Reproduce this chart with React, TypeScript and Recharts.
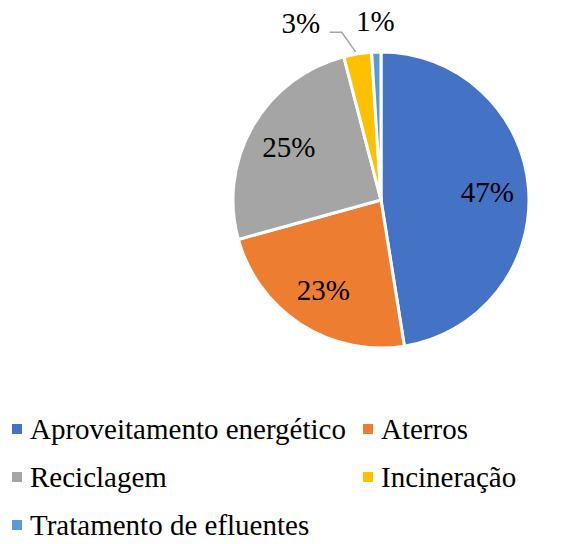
import { PieChart, Pie, Cell, Legend } from "recharts";

const categories = [
  "Aproveitamento energético",
  "Aterros",
  "Reciclagem",
  "Incineração",
  "Tratamento de efluentes",
];
const shares = [47, 23, 25, 3, 1];
const colors = ["#4472C4", "#ED7D31", "#A5A5A5", "#FFC000", "#5B9BD5"];

const data = categories.map((name, i) => ({ name, value: shares[i] }));
const total = shares.reduce((a, b) => a + b, 0);

const FONT = "Liberation Serif, Times New Roman, Tinos, DejaVu Serif, serif";
const RAD = Math.PI / 180;

function renderLabel(props: any) {
  const { cx, cy, midAngle, outerRadius, index, value } = props;
  const pct = Math.round((value / total) * 100) + "%";
  const small = value / total < 0.05;
  if (!small) {
    const r = outerRadius * 0.72;
    const x = cx + r * Math.cos(-midAngle * RAD);
    const y = cy + r * Math.sin(-midAngle * RAD);
    return (
      <text x={x} y={y} textAnchor="middle" dominantBaseline="central" style={{ fontFamily: FONT }} fontSize={29} fill="#000">
        {pct}
      </text>
    );
  }
  const r = outerRadius + 31;
  let x = cx + r * Math.cos(-midAngle * RAD);
  const y = cy + r * Math.sin(-midAngle * RAD);
  const ex = cx + outerRadius * Math.cos(-midAngle * RAD);
  const ey = cy + outerRadius * Math.sin(-midAngle * RAD);
  // the larger of the two thin slices is pushed aside, with a leader line
  const shifted = index === shares.length - 2;
  if (shifted) x -= 52;
  return (
    <g>
      {shifted && (
        <polyline
          points={`${x + 29},${y + 9} ${x + 41},${y + 9} ${ex - 2},${ey - 2}`}
          fill="none"
          stroke="#A6A6A6"
          strokeWidth={1.5}
        />
      )}
      <text x={x} y={y} textAnchor="middle" dominantBaseline="central" style={{ fontFamily: FONT }} fontSize={29} fill="#000">
        {pct}
      </text>
    </g>
  );
}

function renderLegend() {
  return (
    <div
      style={{
        display: "grid",
        gridTemplateColumns: "351px auto",
        rowGap: 22,
        fontFamily: FONT,
        fontSize: 29,
        lineHeight: "26px",
        color: "#000",
      }}
    >
      {data.map((d, i) => (
        <div key={d.name} style={{ display: "flex", alignItems: "center", whiteSpace: "nowrap" }}>
          <span style={{ width: 10, height: 10, background: colors[i], marginRight: 8, flexShrink: 0 }} />
          <span>{d.name}</span>
        </div>
      ))}
    </div>
  );
}

export default function App() {
  return (
    <div style={{ position: "absolute", left: 0, top: 0, background: "#fff" }}>
      <PieChart width={565} height={544} margin={{ top: 0, right: 0, bottom: 0, left: 0 }}>
        <Pie
          data={data}
          dataKey="value"
          nameKey="name"
          cx={381}
          cy={200}
          outerRadius={148}
          startAngle={90}
          endAngle={-270}
          stroke="#fff"
          strokeWidth={3}
          label={renderLabel}
          labelLine={false}
          isAnimationActive={false}
        >
          {data.map((d, i) => (
            <Cell key={d.name} fill={colors[i]} />
          ))}
        </Pie>
        <Legend
          content={renderLegend}
          wrapperStyle={{ position: "absolute", top: 416, left: 12, width: 560 }}
        />
      </PieChart>
    </div>
  );
}
